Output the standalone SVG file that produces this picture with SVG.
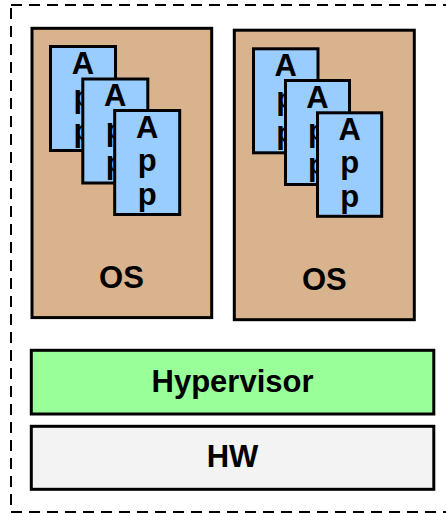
<svg xmlns="http://www.w3.org/2000/svg" width="446" height="513" viewBox="0 0 446 513">
  <style>
    .box { stroke: #000; stroke-width: 3; }
    .os { fill: #D9B38E; }
    .app { fill: #99CCFF; }
    .hyp { fill: #99FF99; }
    .hw { fill: #F3F3F3; }
    .lbl { font-family: "Liberation Sans", Arial, Helvetica, sans-serif; font-weight: bold; font-size: 31px; fill: #000; text-anchor: middle; }
    .frame { fill: none; stroke: #000; stroke-width: 2; stroke-dasharray: 11 7; }
  </style>
  <rect id="frame" class="frame" x="11" y="5" width="445" height="507"/>

  <g id="vm1">
    <g id="os1">
      <rect class="box os" x="32" y="28.3" width="179.7" height="289.3"/>
      <text class="lbl" x="121.5" y="287.5">OS</text>
    </g>
    <g id="vm1-app1">
      <rect class="box app" x="50.5" y="46.5" width="65" height="104"/>
      <text class="lbl" x="83" y="73.5"><tspan x="83">A</tspan><tspan x="83" dy="33.5">p</tspan><tspan x="83" dy="33.5">p</tspan></text>
    </g>
    <g id="vm1-app2">
      <rect class="box app" x="82.8" y="79" width="65" height="104"/>
      <text class="lbl" x="115.3" y="106"><tspan x="115.3">A</tspan><tspan x="115.3" dy="33.5">p</tspan><tspan x="115.3" dy="33.5">p</tspan></text>
    </g>
    <g id="vm1-app3">
      <rect class="box app" x="114.7" y="110.5" width="65" height="104"/>
      <text class="lbl" x="147.2" y="137.5"><tspan x="147.2">A</tspan><tspan x="147.2" dy="33.5">p</tspan><tspan x="147.2" dy="33.5">p</tspan></text>
    </g>
  </g>

  <g id="vm2">
    <g id="os2">
      <rect class="box os" x="234.3" y="30.2" width="180" height="289.5"/>
      <text class="lbl" x="324.3" y="289.5">OS</text>
    </g>
    <g id="vm2-app1">
      <rect class="box app" x="253.5" y="48.8" width="64.5" height="104"/>
      <text class="lbl" x="285.7" y="75.8"><tspan x="285.7">A</tspan><tspan x="285.7" dy="33.5">p</tspan><tspan x="285.7" dy="33.5">p</tspan></text>
    </g>
    <g id="vm2-app2">
      <rect class="box app" x="285.5" y="80.5" width="64" height="104"/>
      <text class="lbl" x="317.5" y="107.5"><tspan x="317.5">A</tspan><tspan x="317.5" dy="33.5">p</tspan><tspan x="317.5" dy="33.5">p</tspan></text>
    </g>
    <g id="vm2-app3">
      <rect class="box app" x="317.5" y="112.8" width="64.2" height="103.5"/>
      <text class="lbl" x="349.6" y="139.8"><tspan x="349.6">A</tspan><tspan x="349.6" dy="33.5">p</tspan><tspan x="349.6" dy="33.5">p</tspan></text>
    </g>
  </g>

  <g id="hypervisor">
    <rect class="box hyp" x="31.3" y="350.3" width="402.5" height="63.7"/>
    <text class="lbl" x="232.5" y="391.5">Hypervisor</text>
  </g>

  <g id="hw">
    <rect class="box hw" x="31.3" y="426.3" width="402.5" height="63"/>
    <text class="lbl" x="232.5" y="466.5">HW</text>
  </g>

  <g id="connectors"/>
</svg>
